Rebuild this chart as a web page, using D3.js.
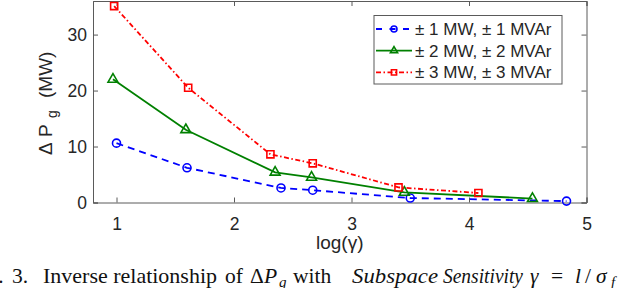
<!DOCTYPE html>
<html>
<head>
<meta charset="utf-8">
<script src="https://cdn.jsdelivr.net/npm/d3@7"></script>
<style>
  body { margin: 0; background: #fff; }
  svg { display: block; }
</style>
</head>
<body>
<svg id="chart"></svg>
<script>
// values
var seriesNames = ["\u00B1 1 MW, \u00B1 1 MVAr", "\u00B1 2 MW, \u00B1 2 MVAr", "\u00B1 3 MW, \u00B1 3 MVAr"]
var xBlue = [1.0, 1.6, 2.4, 2.67, 3.5, 4.83]
var yBlue = [10.6, 6.2, 2.6, 2.2, 0.8, 0.25]
var xGreen = [0.97, 1.59, 2.35, 2.66, 3.45, 4.54]
var yGreen = [22, 13, 5.4, 4.5, 1.8, 0.7]
var xRed = [0.98, 1.61, 2.31, 2.67, 3.40, 4.08]
var yRed = [35.1, 20.5, 8.6, 7.0, 2.7, 1.7]
var xTicks = [1, 2, 3, 4, 5]
var yTicks = [0, 10, 20, 30]

var dimensions = {
    width: 626,
    height: 288,
    margin: { top: 1, bottom: 85.5, right: 39.5, left: 93 }
}

var svg = d3.select("#chart")
            .attr("width", dimensions.width)
            .attr("height", dimensions.height)

var xScale = d3.scaleLinear()
               .domain([0.8, 5])
               .range([dimensions.margin.left, dimensions.width - dimensions.margin.right])
var yScale = d3.scaleLinear()
               .domain([0, 36])
               .range([dimensions.height - dimensions.margin.bottom, dimensions.margin.top])

var axisColor = "#5a5a5a"
var textColor = "#262626"
var font = "'Liberation Sans', Arial, sans-serif"

// box + ticks (MATLAB style, ticks inward on all sides)
var x0 = xScale.range()[0], x1 = xScale.range()[1]
var y0 = yScale.range()[0], y1 = yScale.range()[1]

svg.append("g").call(d3.axisBottom(xScale).tickValues(xTicks).tickSize(-5).tickPadding(15).tickFormat(d3.format("d")))
   .attr("transform", `translate(0,${y0})`)
svg.append("g").call(d3.axisTop(xScale).tickValues(xTicks).tickSize(-5).tickFormat(""))
   .attr("transform", `translate(0,${y1})`)
svg.append("g").call(d3.axisLeft(yScale).tickValues(yTicks).tickSize(-5).tickPadding(6))
   .attr("transform", `translate(${x0},0)`)
svg.append("g").call(d3.axisRight(yScale).tickValues(yTicks).tickSize(-5).tickFormat(""))
   .attr("transform", `translate(${x1},0)`)

svg.selectAll(".domain").attr("stroke", axisColor).attr("stroke-width", 1)
svg.selectAll(".tick line").attr("stroke", axisColor)
svg.selectAll(".tick text").attr("fill", textColor).style("font-family", font).style("font-size", "17.5px")

// series
var series = [
    { xs: xBlue, ys: yBlue, color: "#0000ff", dash: "7,5", marker: "circle" },
    { xs: xGreen, ys: yGreen, color: "#008000", dash: null, marker: "triangle" },
    { xs: xRed, ys: yRed, color: "#ff0000", dash: "5,2.5,1.5,2.5", marker: "square" }
]

var line = d3.line().x(d => xScale(d[0])).y(d => yScale(d[1]))

function drawMarker(g, type, color, size) {
    var sym = type === "circle" ? d3.symbolCircle : type === "triangle" ? d3.symbolTriangle : d3.symbolSquare
    var area = type === "circle" ? Math.PI * size * size : type === "triangle" ? size * size * 2.2 : size * size * 2.6
    g.append("path")
     .attr("d", d3.symbol().type(sym).size(area)())
     .attr("fill", "none")
     .attr("stroke", color)
     .attr("stroke-width", 1.6)
}

series.forEach(function(s) {
    var pts = s.xs.map((x, i) => [x, s.ys[i]])
    svg.append("path")
       .datum(pts)
       .attr("d", line)
       .attr("fill", "none")
       .attr("stroke", s.color)
       .attr("stroke-width", 1.8)
       .attr("stroke-dasharray", s.dash)
    pts.forEach(function(p) {
        var g = svg.append("g").attr("transform", `translate(${xScale(p[0])},${yScale(p[1])})`)
        drawMarker(g, s.marker, s.color, s.marker === "circle" ? 4 : 4.4)
    })
})

// axis labels
svg.append("text")
   .attr("x", (x0 + x1) / 2)
   .attr("y", 249)
   .attr("text-anchor", "middle")
   .attr("fill", textColor)
   .style("font-family", font)
   .style("font-size", "19px")
   .text("log(\u03B3)")

// rotated y label, text x runs along -y
var yl = svg.append("text")
   .attr("transform", "translate(52,0) rotate(-90)")
   .attr("fill", textColor)
   .style("font-family", font)
   .style("font-size", "19px")
yl.append("tspan").attr("x", -155).text("\u0394")
yl.append("tspan").attr("x", -137).text("P")
yl.append("tspan").attr("x", -118).attr("dy", 5).style("font-size", "14px").text("g")
yl.append("tspan").attr("x", -98).attr("dy", -5).text("(MW)")

// legend
var legend = svg.append("g")
legend.append("rect")
      .attr("x", 374).attr("y", 15.5).attr("width", 188).attr("height", 68.5)
      .attr("fill", "#fff").attr("stroke", axisColor).attr("stroke-width", 1)
series.forEach(function(s, i) {
    var cy = 29 + i * 21.7
    legend.append("line")
          .attr("x1", 376).attr("x2", 412).attr("y1", cy).attr("y2", cy)
          .attr("stroke", s.color).attr("stroke-width", 1.8)
          .attr("stroke-dasharray", s.marker === "circle" ? "6,7.5" : s.dash)
    var g = legend.append("g").attr("transform", `translate(394,${cy})`)
    drawMarker(g, s.marker, s.color, s.marker === "circle" ? 3 : 3.2)
    legend.append("text")
          .attr("x", 415).attr("y", cy + 6)
          .attr("fill", textColor)
          .style("font-family", font)
          .style("font-size", "17px")
          .text(seriesNames[i])
})

// caption (cut off at both sides like the source image; justified spacing)
var serif = "'Liberation Serif', 'Times New Roman', serif"
var cap = svg.append("text")
   .attr("y", 283)
   .attr("fill", "#111")
   .style("font-family", serif).style("font-size", "21.5px")
cap.append("tspan").attr("x", -30.5).text("Fig.")
cap.append("tspan").attr("x", 12).text("3.")
cap.append("tspan").attr("x", 43).attr("textLength", 174).attr("lengthAdjust", "spacingAndGlyphs").text("Inverse relationship")
cap.append("tspan").attr("x", 225).text("of")
cap.append("tspan").attr("x", 250).text("\u0394")
cap.append("tspan").attr("x", 264).style("font-style", "italic").text("P")
cap.append("tspan").attr("x", 279).attr("dy", 4).style("font-style", "italic").style("font-size", "15px").text("g")
cap.append("tspan").attr("x", 293).attr("dy", -4).text("with")
cap.append("tspan").attr("x", 352).attr("textLength", 86).attr("lengthAdjust", "spacingAndGlyphs").style("font-style", "italic").text("Subspace")
cap.append("tspan").attr("x", 443).attr("textLength", 80).attr("lengthAdjust", "spacingAndGlyphs").style("font-style", "italic").text("Sensitivity")
cap.append("tspan").attr("x", 530).style("font-style", "italic").text("\u03B3")
cap.append("tspan").attr("x", 551).text("=")
cap.append("tspan").attr("x", 575).style("font-style", "italic").text("l")
cap.append("tspan").attr("x", 585).text("/")
cap.append("tspan").attr("x", 596).style("font-style", "italic").text("\u03C3")
cap.append("tspan").attr("x", 611).attr("dy", 4).style("font-style", "italic").style("font-size", "15px").text("f")
</script>
</body>
</html>
